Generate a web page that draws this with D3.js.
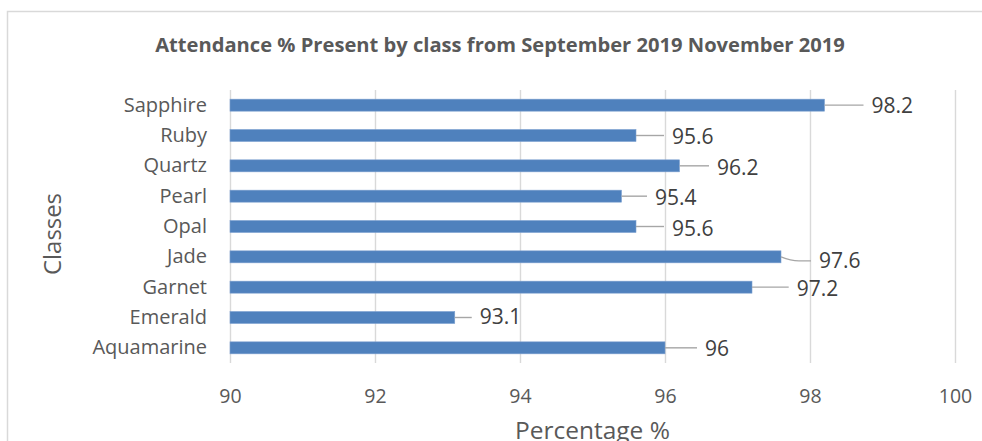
<!DOCTYPE html>
<html>
<head>
<meta charset="utf-8">
<script src="https://cdn.jsdelivr.net/npm/d3@7"></script>
<style>
  html, body { margin: 0; padding: 0; background: #ffffff; }
  svg { display: block; }
</style>
</head>
<body>
<svg id="chart" width="982" height="441"></svg>
<script>
// ---- data ----
const titleText = "Attendance % Present by class from September 2019 November 2019";
const xAxisTitle = "Percentage %";
const yAxisTitle = "Classes";
const categories = ["Sapphire", "Ruby", "Quartz", "Pearl", "Opal", "Jade", "Garnet", "Emerald", "Aquamarine"];
const values = [98.2, 95.6, 96.2, 95.4, 95.6, 97.6, 97.2, 93.1, 96];
const xTicks = [90, 92, 94, 96, 98, 100];
// label placement nudges (px), layout only
const labelDx = [47, 36, 37.5, 33.5, 36, 38, 44.7, 25, 40];
const labelDy = [0.5, 1, 1.5, 1, 1.5, 4, 1, -1.5, 1];

// ---- layout ----
const svg = d3.select("#chart");
const font = "'Open Sans', 'Segoe UI', sans-serif";
const textCol = "#595959";
const plot = { left: 230, right: 955, top: 90, bottom: 363 };

// chart border
svg.append("rect")
  .attr("x", 7.5).attr("y", 11.5)
  .attr("width", 1000).attr("height", 500)
  .attr("fill", "#fff").attr("stroke", "#d9d9d9").attr("stroke-width", 1.5);

const x = d3.scaleLinear().domain([90, 100]).range([plot.left, plot.right]);
const y = d3.scaleBand().domain(categories).range([plot.top, plot.bottom])
  .paddingInner(0.6).paddingOuter(0.3);

function fitSize(sel, target, ref) {
  sel.attr("font-size", ref);
  const w = sel.node().getComputedTextLength();
  sel.attr("font-size", (ref * target / w).toFixed(2));
}

// title
const t = svg.append("text")
  .attr("x", 500).attr("y", 52)
  .attr("text-anchor", "middle")
  .attr("font-family", font).attr("font-weight", "bold")
  .attr("fill", textCol)
  .text(titleText);
fitSize(t, 690, 16);

// gridlines via axis
const xAxis = d3.axisBottom(x).tickValues(xTicks).tickSize(-(plot.bottom - plot.top)).tickFormat(d3.format("d"));
const gx = svg.append("g")
  .attr("transform", `translate(0,${plot.bottom})`)
  .call(xAxis);
gx.select(".domain").remove();
gx.selectAll(".tick line").attr("stroke", "#d9d9d9").attr("stroke-width", 1.4);
gx.selectAll(".tick text")
  .attr("font-family", font).attr("font-size", 19.5)
  .attr("fill", textCol).attr("dy", null).attr("y", 40);

// y axis labels
const yAxis = d3.axisLeft(y).tickSize(0).tickPadding(23);
const gy = svg.append("g").attr("transform", `translate(${plot.left},0)`).call(yAxis);
gy.select(".domain").remove();
gy.selectAll(".tick text")
  .attr("font-family", font).attr("font-size", 20)
  .attr("fill", textCol);

// bars
const bh = 12;
svg.append("g").selectAll("rect")
  .data(categories)
  .join("rect")
  .attr("x", x(90))
  .attr("y", (d) => y(d) + y.bandwidth() / 2 - bh / 2)
  .attr("width", (d, i) => x(values[i]) - x(90))
  .attr("height", bh)
  .attr("fill", "#4f81bd")
  .attr("stroke", "#7da0d0").attr("stroke-width", 0.6);

// leader lines and data labels
const lg = svg.append("g");
categories.forEach((c, i) => {
  const cy = y(c) + y.bandwidth() / 2;
  const x0 = x(values[i]);
  const lx = x0 + labelDx[i];
  const ly = cy + labelDy[i];
  const p = d3.path();
  p.moveTo(x0, cy);
  if (Math.abs(labelDy[i]) > 2) {
    p.quadraticCurveTo(x0 + 10, ly, x0 + 18, ly);
  }
  p.lineTo(lx - 8, Math.abs(labelDy[i]) > 2 ? ly : cy);
  lg.append("path").attr("d", p.toString())
    .attr("fill", "none").attr("stroke", "#a6a6a6").attr("stroke-width", 1.4);
  lg.append("text")
    .attr("x", lx).attr("y", ly)
    .attr("dy", "0.36em")
    .attr("font-family", font).attr("font-size", 21)
    .attr("fill", "#404040")
    .text(values[i]);
});

// axis titles
const xt = svg.append("text")
  .attr("x", (plot.left + plot.right) / 2).attr("y", 439)
  .attr("text-anchor", "middle")
  .attr("font-family", font).attr("fill", textCol)
  .text(xAxisTitle);
fitSize(xt, 155, 24);

const yt = svg.append("text")
  .attr("transform", `translate(61,234) rotate(-90)`)
  .attr("text-anchor", "middle")
  .attr("font-family", font).attr("fill", textCol)
  .text(yAxisTitle);
fitSize(yt, 82, 24);
</script>
</body>
</html>
